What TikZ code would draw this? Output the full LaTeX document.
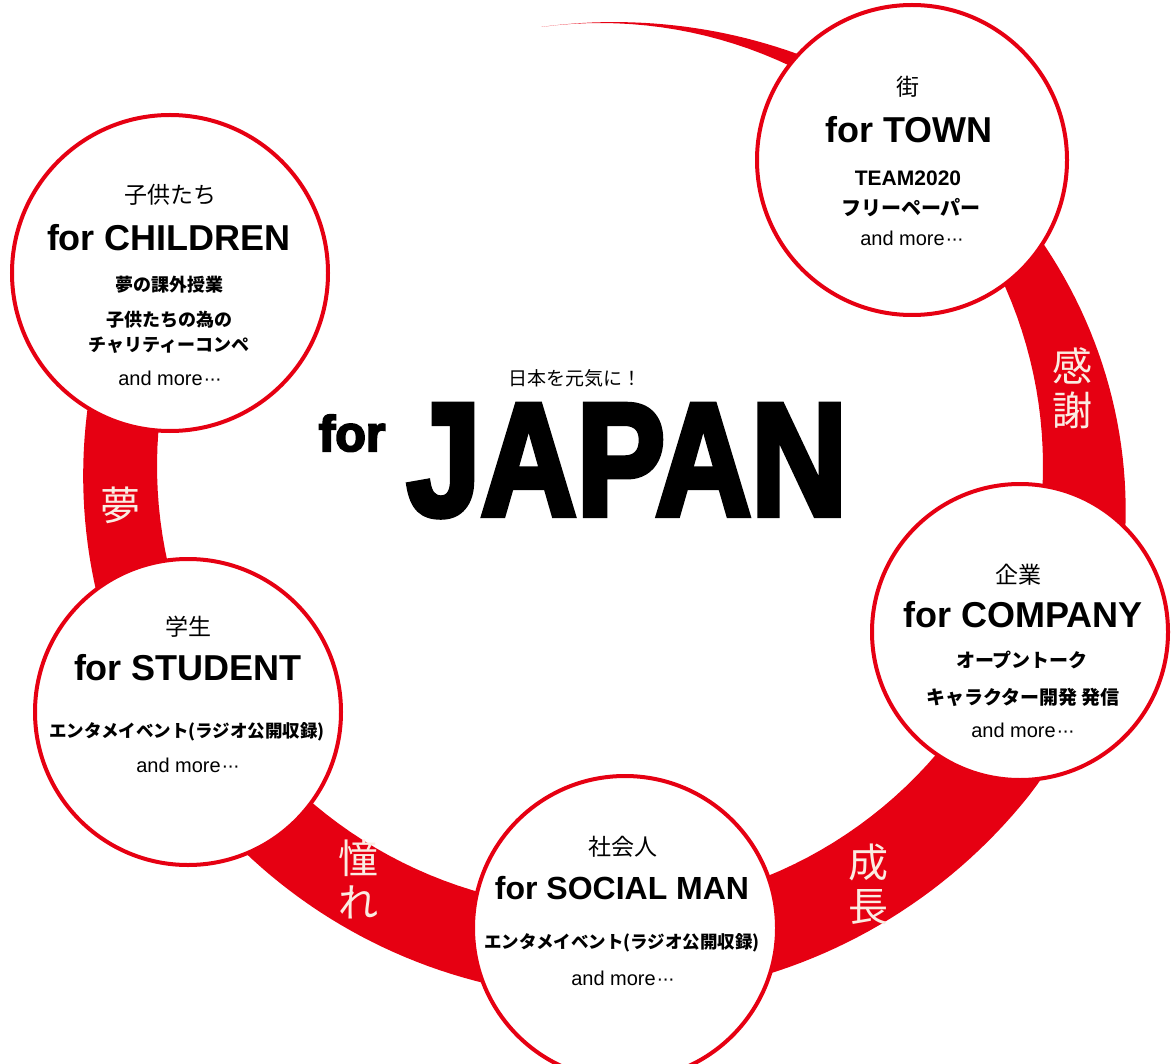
\documentclass[tikz,border=0pt]{standalone}
\usepackage{fontspec}
\usepackage{graphicx}
\setmainfont{Liberation Sans}
\newfontfamily\jp{Noto Sans CJK JP}
\newfontfamily\heavy[FakeBold=4]{Liberation Sans Bold}
\definecolor{ringred}{RGB}{230,0,18}
\definecolor{cream}{RGB}{250,236,226}
\newcommand{\mydots}{\kern1pt·\kern-1pt·\kern-1pt·}
\begin{document}
\begin{tikzpicture}[x=1pt,y=-1pt,
  declare function={bw(\t)=(\t<135)*98*pow(sin(\t/1.5),2)+(\t>=135)*(98-0.17*(\t-135));},
  circ/.style={circle,draw=ringred,line width=4pt,fill=white,inner sep=0pt},
  hd/.style={inner sep=0pt,font=\jp\fontsize{23}{23}\selectfont},
  ttl/.style={inner sep=0pt,font=\bfseries\fontsize{36}{36}\selectfont},
  itm/.style={inner sep=0pt,font=\jp\bfseries\fontsize{18}{18}\selectfont},
  more/.style={inner sep=0pt,font=\fontsize{20}{20}\selectfont},
  bandlbl/.style={inner sep=0pt,align=center,text=cream,font=\jp\fontsize{40}{44}\selectfont}]
\useasboundingbox (0,0) rectangle (1172,1064);
% ring band
\fill[ringred] plot[domain=0:290,samples=220,variable=\t]
  ({600+(443+bw(\t))*cos(97.6-\t)},{466-(443+bw(\t))*sin(97.6-\t)})
  -- plot[domain=290:0,samples=150,variable=\t]
  ({600+443*cos(97.6-\t)},{466-443*sin(97.6-\t)}) -- cycle;
% band labels
\node[bandlbl] (lkansha) at (1072,388) {感\\謝};
\node[bandlbl] (lseicho) at (868,884) {成\\長};
\node[bandlbl] (lakogare) at (358,879) {憧\\れ};
\node[bandlbl] (lyume) at (120,505) {夢};
% circles
\node[circ,minimum size=316pt] (children) at (170,273) {};
\node[circ,minimum size=310pt] (town) at (912,160) {};
\node[circ,minimum size=296pt] (company) at (1020,632) {};
\node[circ,minimum size=304pt] (social) at (625,928) {};
\node[circ,minimum size=306pt] (student) at (188,712) {};
% children texts
\node[hd] (c1) at (170,195) {子供たち};
\node[ttl] (c2) at (169,238) {for CHILDREN};
\node[itm] (c3) at (169,285) {夢の課外授業};
\node[itm] (c4) at (169,320) {子供たちの為の};
\node[itm] (c5) at (169,345) {チャリティーコンペ};
\node[more] (c6) at (170,378) {and more\mydots};
% town texts
\node[hd] (t1) at (908,87) {街};
\node[ttl] (t2) at (909,130) {for TOWN};
\node[inner sep=0pt,font=\bfseries\fontsize{21}{21}\selectfont] (t3) at (908,178) {TEAM2020};
\node[itm,font=\jp\bfseries\fontsize{20}{20}\selectfont] (t4) at (911,208) {フリーペーパー};
\node[more] (t5) at (912,238) {and more\mydots};
% company texts
\node[hd] (k1) at (1018,575) {企業};
\node[ttl] (k2) at (1023,615) {for COMPANY};
\node[itm,font=\jp\bfseries\fontsize{19}{19}\selectfont] (k3) at (1022,660) {オープントーク};
\node[itm,font=\jp\bfseries\fontsize{19}{19}\selectfont] (k4) at (1023,697) {キャラクター開発 発信};
\node[more] (k5) at (1023,730) {and more\mydots};
% student texts
\node[hd] (s1) at (188,627) {学生};
\node[ttl] (s2) at (188,668) {for STUDENT};
\node[itm,font=\jp\bfseries\fontsize{17.5}{17.5}\selectfont] (s3) at (187,732) {エンタメイベント(ラジオ公開収録)};
\node[more] (s4) at (188,765) {and more\mydots};
% social texts
\node[hd] (m1) at (623,847) {社会人};
\node[ttl,font=\bfseries\fontsize{32}{32}\selectfont] (m2) at (622,888) {for SOCIAL MAN};
\node[itm,font=\jp\bfseries\fontsize{17.5}{17.5}\selectfont] (m3) at (622,943) {エンタメイベント(ラジオ公開収録)};
\node[more] (m4) at (623,978) {and more\mydots};
% center
\node[inner sep=0pt,font=\jp\fontsize{19}{19}\selectfont] (slogan) at (575,378) {日本を元気に！};
\node[inner sep=0pt,anchor=base,font=\heavy\fontsize{50}{50}\selectfont] (for) at (352,451) {for};
\node[inner sep=0pt,anchor=base,font=\heavy\fontsize{160}{160}\selectfont] (japan) at (627,515) {\scalebox{0.83}[1]{JAPAN}};
\end{tikzpicture}
\end{document}
